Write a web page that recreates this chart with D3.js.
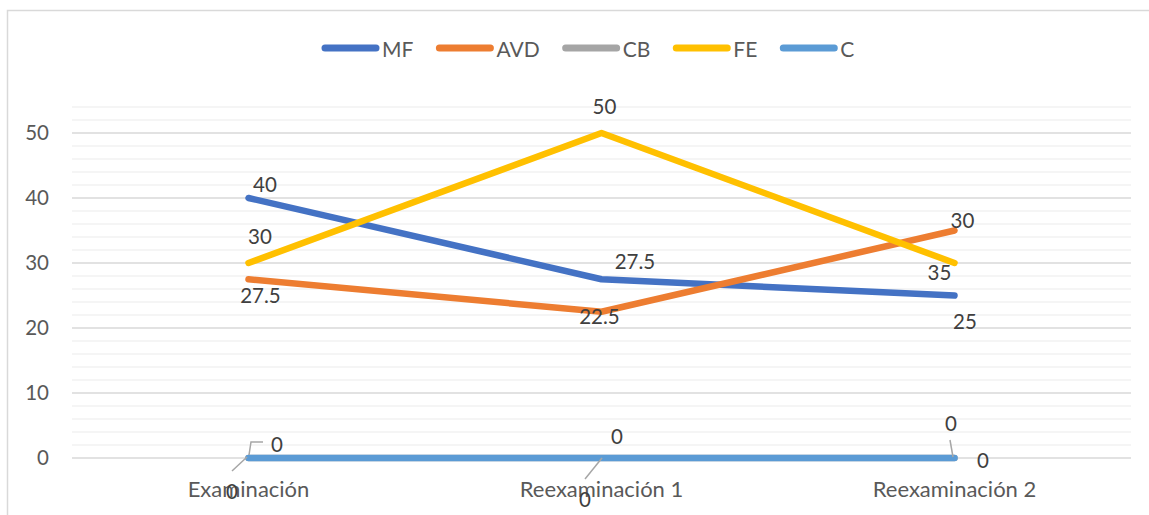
<!DOCTYPE html>
<html>
<head>
    <meta charset="utf-8">
    <script src="https://d3js.org/d3.v7.min.js"></script>
    <style>
        body { margin: 0; background: #fff; }
        text { font-family: Lato, "Liberation Sans", sans-serif; }
    </style>
</head>
<body>
    <svg width="1149" height="515"></svg>

    <script>
        // datos del gráfico
        var categories = ['Examinación', 'Reexaminación 1', 'Reexaminación 2'];
        var seriesNames = ['MF', 'AVD', 'CB', 'FE', 'C'];
        var mf = [40, 27.5, 25];
        var avd = [27.5, 22.5, 35];
        var cb = [0, 0, 0];
        var fe = [30, 50, 30];
        var c = [0, 0, 0];
        // textos de las etiquetas tal como aparecen
        var mfLabels = ['40', '27.5', '25'];
        var avdLabels = ['27.5', '22.5', '30'];
        var cbLabels = ['0', '0', '0'];
        var feLabels = ['30', '50', '35'];
        var cLabels = ['0', '0', '0'];
        var yTicks = [0, 10, 20, 30, 40, 50];

        var colors = ['#4472C4', '#ED7D31', '#A5A5A5', '#FFC000', '#5B9BD5'];

        // posición de cada etiqueta respecto a su punto (y líneas guía)
        var labelStyle = [
            [{ dx: 16.5, dy: -14.5 }, { dx: 33.5, dy: -18 }, { dx: 10.5, dy: 25 }],
            [{ dx: 12, dy: 16 }, { dx: -2, dy: 4 }, { dx: 8, dy: -10.5 }],
            [{ dx: 28.5, dy: -14, guide: [[0.5, -3], [2.5, -16], [14.5, -16]] },
             { dx: 15.5, dy: -22 },
             { dx: -3.5, dy: -35, guide: [[-4.5, -18], [-1.5, -1]] }],
            [{ dx: 11.5, dy: -27.5 }, { dx: 3, dy: -27 }, { dx: -15, dy: 8.5 }],
            [{ dx: -16.5, dy: 33, guide: [[-1.5, -1], [-16.5, 13]] },
             { dx: -16.5, dy: 41, guide: [[0.5, 0], [-16.5, 21]] },
             { dx: 28.5, dy: 2 }]
        ];

        var series = [mf, avd, cb, fe, c].map(function(values, i) {
            return {
                name: seriesNames[i],
                color: colors[i],
                labels: [mfLabels, avdLabels, cbLabels, feLabels, cLabels][i],
                values: values.map(function(v, j) { return { cat: categories[j], value: v }; })
            };
        });

        var svg = d3.select('svg');

        // marco
        svg.append('path')
            .attr('d', 'M7.5,515 L7.5,10.5 L1149,10.5')
            .attr('fill', 'none')
            .attr('stroke', '#D9D9D9')
            .attr('stroke-width', 1.5);

        var x = d3.scaleBand().domain(categories).range([72, 1131]);
        var y = d3.scaleLinear().domain([0, 54]).range([458, 107]);

        function px(d) { return x(d.cat) + x.bandwidth() / 2; }

        // líneas de división secundarias y principales
        var minor = d3.range(0, 55, 2);
        svg.append('g').selectAll('line')
            .data(minor)
            .enter().append('line')
            .attr('x1', 72).attr('x2', 1131)
            .attr('y1', function(d) { return y(d); })
            .attr('y2', function(d) { return y(d); })
            .attr('stroke', function(d) { return d % 10 === 0 ? '#D9D9D9' : '#F2F2F2'; })
            .attr('stroke-width', 1.5);

        // eje Y
        var yAxis = d3.axisLeft(y).tickValues(yTicks).tickSize(0).tickPadding(0);
        var gy = svg.append('g').attr('transform', 'translate(49,0)').call(yAxis);
        gy.select('.domain').remove();
        gy.selectAll('text')
            .attr('fill', '#595959')
            .style('font-size', '20.5px')
            .style('font-family', 'Lato, "Liberation Sans", sans-serif');

        // eje X
        var xAxis = d3.axisBottom(x).tickSize(0).tickPadding(0);
        var gx = svg.append('g').attr('transform', 'translate(0,458)').call(xAxis);
        gx.select('.domain').remove();
        gx.selectAll('text')
            .attr('dy', null)
            .attr('y', 39)
            .attr('fill', '#595959')
            .style('font-size', '22px')
            .style('font-family', 'Lato, "Liberation Sans", sans-serif');

        // series
        var line = d3.line()
            .x(px)
            .y(function(d) { return y(d.value); });

        svg.append('g').selectAll('path')
            .data(series)
            .enter().append('path')
            .attr('d', function(d) { return line(d.values); })
            .attr('fill', 'none')
            .attr('stroke', function(d) { return d.color; })
            .attr('stroke-width', 6.5)
            .attr('stroke-linecap', 'round')
            .attr('stroke-linejoin', 'round');

        // etiquetas de datos
        var gl = svg.append('g');
        series.forEach(function(s, i) {
            s.values.forEach(function(d, j) {
                var st = labelStyle[i][j];
                var x0 = px(d), y0 = y(d.value);
                if (st.guide) {
                    gl.append('polyline')
                        .attr('points', st.guide.map(function(p) { return (x0 + p[0]) + ',' + (y0 + p[1]); }).join(' '))
                        .attr('fill', 'none')
                        .attr('stroke', '#A6A6A6')
                        .attr('stroke-width', 1.5);
                }
                gl.append('text')
                    .attr('x', x0 + st.dx)
                    .attr('y', y0 + st.dy)
                    .attr('text-anchor', 'middle')
                    .attr('dominant-baseline', 'central')
                    .attr('fill', '#404040')
                    .style('font-size', '20.5px')
                    .text(s.labels[j]);
            });
        });

        // leyenda
        var legend = svg.append('g');
        var lx = 322;
        series.forEach(function(s) {
            legend.append('line')
                .attr('x1', lx + 3).attr('x2', lx + 54)
                .attr('y1', 48).attr('y2', 48)
                .attr('stroke', s.color)
                .attr('stroke-width', 7)
                .attr('stroke-linecap', 'round');
            var t = legend.append('text')
                .attr('x', lx + 60)
                .attr('y', 48)
                .attr('dominant-baseline', 'central')
                .attr('fill', '#595959')
                .style('font-size', '21px')
                .text(s.name);
            lx += 60 + t.node().getComputedTextLength() + 23;
        });
    </script>
</body>
</html>
